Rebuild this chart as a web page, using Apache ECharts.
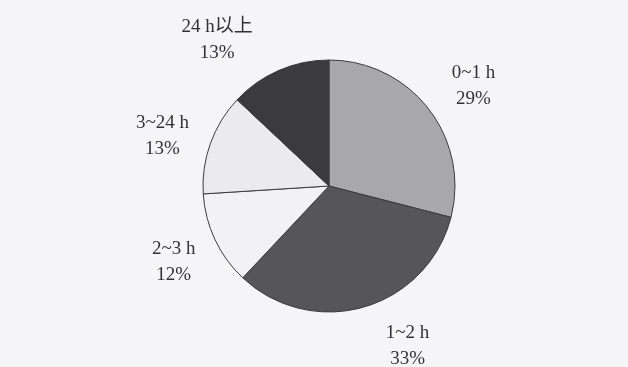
<!DOCTYPE html>
<html>
<head>
<meta charset="utf-8">
<style>
  html, body { margin: 0; padding: 0; background: #f5f5f7; }
  #chart { width: 628px; height: 367px; }
</style>
<script src="https://cdn.jsdelivr.net/npm/echarts@6/dist/echarts.min.js"></script>
</head>
<body>
<div id="chart"></div>
<script>
// Share of time intervals (percent), clockwise from 12 o'clock
const categories = ['0~1 h', '1~2 h', '2~3 h', '3~24 h', '24 h以上'];
const shares = [29, 33, 12, 13, 13];
const sliceColors = ['#a8a8aa', '#565658', '#f2f2f4', '#ebebee', '#3b3b3d'];

// Label placement around the pie: angular nudge (deg) and distance (px) from centre
const labelNudge = [-3, 10, 1, 3, 14];
const labelDist = [176, 178, 173, 174, 184];

const CX = 329, CY = 186, R = 126;

const chart = echarts.init(document.getElementById('chart'), null, { renderer: 'canvas' });

const total = shares.reduce((a, b) => a + b, 0);
const midAngles = [];
let acc = 0;
shares.forEach(v => {
  midAngles.push(90 - (acc + v / 2) / total * 360);
  acc += v;
});

chart.setOption({
  backgroundColor: '#f5f5f7',
  animation: false,
  series: [{
    type: 'pie',
    center: [CX, CY],
    radius: [0, R],
    startAngle: 90,
    clockwise: true,
    avoidLabelOverlap: false,
    data: categories.map((name, i) => ({
      name: name,
      value: shares[i],
      itemStyle: { color: sliceColors[i] }
    })),
    itemStyle: { borderColor: '#3c3c3e', borderWidth: 1 },
    label: {
      show: true,
      position: 'outside',
      formatter: p => p.name + '\n' + p.value + '%',
      fontFamily: "'Liberation Serif', 'Noto Sans CJK SC', serif",
      fontSize: 19,
      lineHeight: 26,
      color: '#333335',
      align: 'center'
    },
    labelLine: { show: false },
    labelLayout: function (params) {
      const i = params.dataIndex;
      const a = (midAngles[i] + labelNudge[i]) * Math.PI / 180;
      return {
        x: CX + labelDist[i] * Math.cos(a),
        y: CY - labelDist[i] * Math.sin(a),
        align: 'center',
        verticalAlign: 'middle'
      };
    }
  }]
});
</script>
</body>
</html>
